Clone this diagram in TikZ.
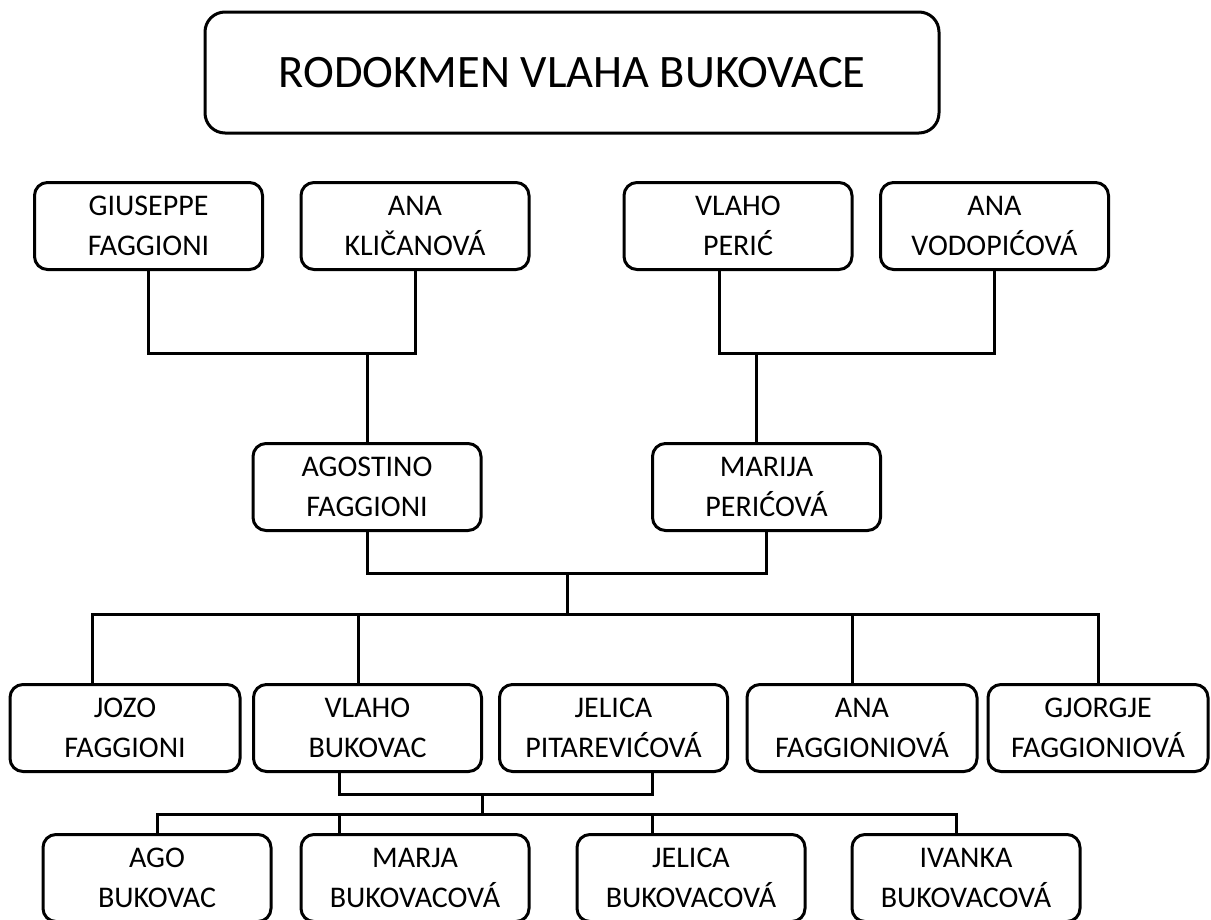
\documentclass[tikz,border=0pt]{standalone}
\usepackage{fontspec}
\setmainfont{Carlito}
\tikzset{
  osoba/.style={draw,rounded corners=13pt,minimum width=228pt,minimum height=87pt,align=center,inner sep=0pt,font=\fontsize{30}{40}\selectfont},
  naslovbox/.style={draw,rounded corners=20pt,minimum width=734pt,minimum height=121pt,font=\fontsize{46.5}{56}\selectfont}
}
\begin{document}
\begin{tikzpicture}[x=1pt,y=-1pt,line width=3pt]
  \useasboundingbox (0,0) rectangle (1211,919);
  \node at (572,72.5) [naslovbox] (naslov) {RODOKMEN VLAHA BUKOVACE};
  % djedovi i bake
  \node at (148.5,226) [osoba] (giuseppe) {GIUSEPPE\\FAGGIONI};
  \node at (415,226) [osoba] (anaK) {ANA\\KLIČANOVÁ};
  \node at (738,226) [osoba] (vlahoP) {VLAHO\\PERIĆ};
  \node at (994.5,226) [osoba] (anaV) {ANA\\VODOPIĆOVÁ};
  % roditelji
  \node at (367,487) [osoba] (agostino) {AGOSTINO\\FAGGIONI};
  \node at (766.5,487) [osoba] (marija) {MARIJA\\PERIĆOVÁ};
  % djeca
  \node at (125,728) [osoba,minimum width=230pt] (jozo) {JOZO\\FAGGIONI};
  \node at (367.5,728) [osoba] (vlahoB) {VLAHO\\BUKOVAC};
  \node at (613.5,728) [osoba] (jelicaP) {JELICA\\PITAREVIĆOVÁ};
  \node at (862,728) [osoba,minimum width=230pt] (anaF) {ANA\\FAGGIONIOVÁ};
  \node at (1098,728) [osoba,minimum width=220pt] (gjorgje) {GJORGJE\\FAGGIONIOVÁ};
  % unuci
  \node at (157,878) [osoba] (ago) {AGO\\BUKOVAC};
  \node at (415,878) [osoba] (marja) {MARJA\\BUKOVACOVÁ};
  \node at (691,878) [osoba] (jelicaB) {JELICA\\BUKOVACOVÁ};
  \node at (966,878) [osoba] (ivanka) {IVANKA\\BUKOVACOVÁ};
  % spojevi
  \coordinate (j1) at (367,353);
  \coordinate (j2) at (756,353);
  \coordinate (j3) at (567,573);
  \coordinate (j4) at (567,614);
  \coordinate (j5) at (482,794);
  \coordinate (j6) at (482,814);
  \draw (giuseppe) |- (j1) -| (anaK);
  \draw (j1) -- (agostino);
  \draw ([xshift=-19pt]vlahoP.south) |- (j2) -| (anaV);
  \draw (j2) -- (j2 |- marija.north);
  \draw (agostino) |- (j3) -| (marija);
  \draw (j3) -- (j4);
  \draw ([xshift=-33pt]jozo.north) |- (j4) -| (gjorgje);
  \draw ([xshift=-9.5pt]vlahoB.north) -- ++(0,-70);
  \draw ([xshift=-10pt]anaF.north) -- ++(0,-70);
  \draw ([xshift=-28.5pt]vlahoB.south) |- (j5) -| ([xshift=38.5pt]jelicaP.south);
  \draw (j5) -- (j6);
  \draw (ago) |- (j6) -| ([xshift=-10pt]ivanka.north);
  \draw ([xshift=-76pt]marja.north) -- ++(0,-20);
  \draw ([xshift=-39pt]jelicaB.north) -- ++(0,-20);
\end{tikzpicture}
\end{document}
